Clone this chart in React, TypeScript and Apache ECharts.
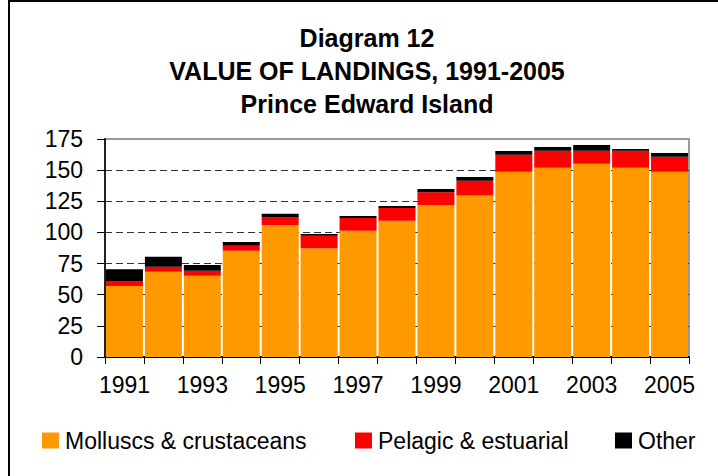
import React, { useEffect, useRef } from "react";
import * as echarts from "echarts";

const years = ["1991","1992","1993","1994","1995","1996","1997","1998","1999","2000","2001","2002","2003","2004","2005"];
const molluscs = [57, 68.5, 65.3, 85.3, 106, 87.2, 101.4, 109.4, 122, 129.7, 148.7, 152, 155.2, 152, 148.7];
const pelagic = [4.1, 4, 4, 4.1, 5.9, 10.2, 10.2, 10.2, 10.2, 11.8, 13.7, 13.6, 10.4, 13.6, 12.1];
const other = [9.3, 8, 4.5, 2.9, 3, 1.3, 1.6, 1.6, 2.6, 3, 2.9, 2.9, 4.5, 1.3, 2.9];
const titleLines = ["Diagram 12", "VALUE OF LANDINGS, 1991-2005", "Prince Edward Island"];
const seriesNames = ["Molluscs & crustaceans", "Pelagic & estuarial", "Other"];
const colors = ["#FF9900", "#FF0000", "#000000"];

const FONT = "'Liberation Sans', Arial, sans-serif";

export default function App() {
  const ref = useRef<HTMLDivElement>(null);
  useEffect(() => {
    if (!ref.current) return;
    const chart = echarts.init(ref.current, null, { renderer: "svg" });
    const values = [molluscs, pelagic, other];
    const legendLefts = [37, 350, 610];
    chart.setOption({
      animation: false,
      backgroundColor: "#fff",
      textStyle: { fontFamily: FONT },
      title: {
        text: titleLines.join("\n"),
        left: 362,
        textAlign: "center",
        top: 16,
        textStyle: { fontFamily: FONT, fontSize: 25, fontWeight: "bold", color: "#000", lineHeight: 33 },
      },
      graphic: [
        {
          type: "rect",
          shape: { x: 9, y: 1, width: 800, height: 600 },
          style: { fill: "none", stroke: "#000", lineWidth: 2 },
          silent: true,
        },
      ],
      legend: seriesNames.map((n, i) => ({
        data: [n],
        left: legendLefts[i],
        top: 424,
        itemWidth: 17,
        itemHeight: 16,
        itemGap: 7,
        icon: "rect",
        textStyle: { fontFamily: FONT, fontSize: 23, color: "#000", padding: [0, 0, 0, 1] },
      })),
      grid: {
        left: 105,
        right: 29,
        top: 139,
        bottom: 119,
        show: true,
        borderColor: "#999",
        borderWidth: 2,
        containLabel: false,
        outerBoundsMode: "none",
      },
      xAxis: {
        type: "category",
        data: years,
        axisLine: { lineStyle: { color: "#000", width: 2 } },
        axisTick: { show: true, interval: 0, length: 7, lineStyle: { color: "#000", width: 1 } },
        axisLabel: { interval: 1, fontSize: 23, color: "#000", margin: 16, fontFamily: FONT },
        splitLine: { show: false },
      },
      yAxis: {
        type: "value",
        min: 0,
        max: 175,
        interval: 25,
        axisLine: { show: true, lineStyle: { color: "#222", width: 2 } },
        axisTick: { show: true, length: 8, lineStyle: { color: "#000", width: 1 } },
        axisLabel: { fontSize: 23, color: "#000", margin: 22, fontFamily: FONT },
        splitLine: { show: true, showMaxLine: false, showMinLine: false, lineStyle: { color: "#333", type: [7, 4], width: 1 } },
      },
      series: seriesNames.map((n, i) => ({
        name: n,
        type: "bar",
        stack: "total",
        data: values[i],
        barCategoryGap: "5%",
        itemStyle: { color: colors[i] },
      })),
    });
    return () => chart.dispose();
  }, []);
  return <div ref={ref} style={{ position: "absolute", left: 0, top: 0, width: 718, height: 476 }} />;
}
